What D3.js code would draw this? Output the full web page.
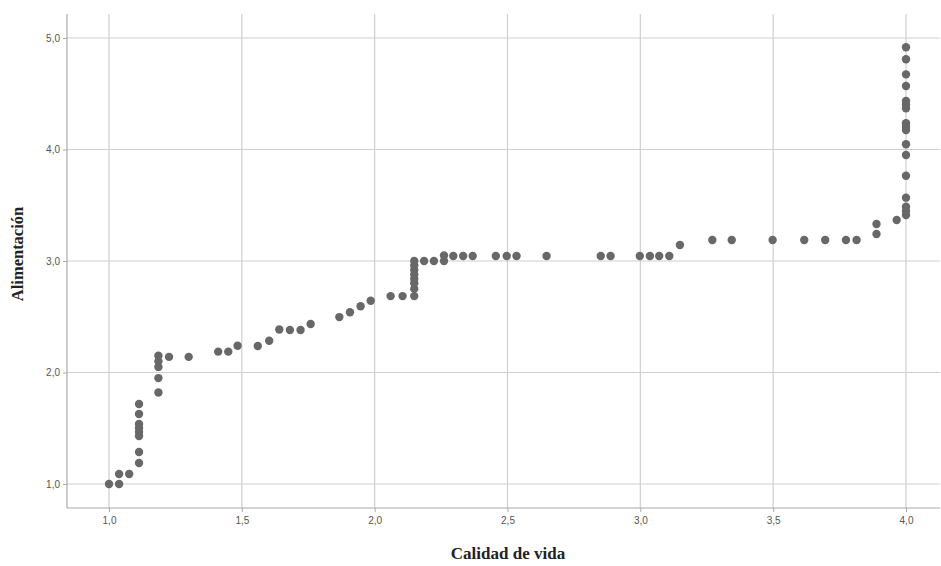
<!DOCTYPE html>
<html><head><meta charset="utf-8">
<script src="https://cdn.jsdelivr.net/npm/d3@7"></script>
<style>body{margin:0;background:#fff}svg{display:block}</style>
</head><body><svg id="c" width="941" height="566"></svg>
<script>
const xLabel = "Calidad de vida";
const yLabel = "Alimentación";
const xTicks = [1.0,1.5,2.0,2.5,3.0,3.5,4.0];
const yTicks = [1.0,2.0,3.0,4.0,5.0];
const calidadVida = [
 1.0,1.038,1.038,1.076,
 1.113,1.113,1.113,1.113,1.113,1.113,1.113,1.113,
 1.186,1.186,1.186,1.186,1.186,1.226,1.30,
 1.411,1.449,1.484,1.560,1.603,1.641,1.681,1.721,1.759,
 1.867,1.907,1.947,1.985,2.060,2.105,
 2.149,2.149,2.149,2.149,2.149,2.149,2.149,2.149,
 2.186,2.223,2.261,2.261,2.296,2.333,2.369,2.456,2.497,2.534,2.647,
 2.851,2.888,2.998,3.036,3.071,3.109,3.149,
 3.271,3.344,3.498,3.617,3.696,3.774,3.814,3.889,3.889,3.965,
 4,4,4,4,4,4,4,4,4,4,4,4,4,4,4,4,4
];
const alimentacion = [
 1.0,1.0,1.09,1.09,
 1.188,1.287,1.43,1.466,1.502,1.538,1.628,1.717,
 1.82,1.95,2.05,2.10,2.15,2.14,2.14,
 2.187,2.187,2.24,2.237,2.285,2.386,2.381,2.381,2.435,
 2.497,2.54,2.594,2.643,2.685,2.685,
 2.685,2.75,2.80,2.84,2.88,2.92,2.96,3.0,
 3.0,3.0,3.0,3.05,3.045,3.045,3.045,3.045,3.045,3.045,3.045,
 3.045,3.045,3.045,3.045,3.045,3.045,3.143,
 3.188,3.188,3.188,3.188,3.188,3.188,3.188,3.242,3.332,3.368,
 3.413,3.448,3.487,3.568,3.765,3.951,4.047,4.175,4.205,4.235,4.369,4.402,4.435,4.570,4.674,4.809,4.917
];
const svg = d3.select("#c");
const L=67, R=940, T=14, B=508;
const x = d3.scaleLinear().domain([1,4]).range([109,906]);
const y = d3.scaleLinear().domain([1,5]).range([484,38]);
const fmt = d => d.toFixed(1).replace(".", ",");
// grid
svg.append("g").selectAll("line").data(xTicks).join("line")
 .attr("x1",d=>x(d)).attr("x2",d=>x(d)).attr("y1",T).attr("y2",B)
 .attr("stroke","#cfcfcf").attr("stroke-width",1.2);
svg.append("g").selectAll("line").data(yTicks).join("line")
 .attr("y1",d=>y(d)).attr("y2",d=>y(d)).attr("x1",L).attr("x2",R)
 .attr("stroke","#cfcfcf").attr("stroke-width",1.2);
// axes
const xa = svg.append("g").attr("transform",`translate(0,${B})`)
 .call(d3.axisBottom(x).tickValues(xTicks).tickFormat(fmt).tickSize(4).tickPadding(5));
const ya = svg.append("g").attr("transform",`translate(${L},0)`)
 .call(d3.axisLeft(y).tickValues(yTicks).tickFormat(fmt).tickSize(4).tickPadding(3));
[xa,ya].forEach(a=>{
 a.select(".domain").remove();
 a.selectAll(".tick line").attr("stroke","#aaa");
 a.selectAll(".tick text").attr("fill","#555").style("font-family","Arial, 'Liberation Sans', sans-serif").style("font-size","10px");
});
svg.append("line").attr("x1",L).attr("x2",L).attr("y1",T).attr("y2",B).attr("stroke","#aaa").attr("stroke-width",1.2);
svg.append("line").attr("x1",L).attr("x2",R).attr("y1",B).attr("y2",B).attr("stroke","#aaa").attr("stroke-width",1.2);
// points
svg.append("g").selectAll("circle").data(calidadVida.map((v,i)=>[v,alimentacion[i]])).join("circle")
 .attr("cx",d=>x(d[0])).attr("cy",d=>y(d[1])).attr("r",4.2).attr("fill","#686868");
// labels
svg.append("text").attr("x",508).attr("y",559).attr("text-anchor","middle")
 .style("font-family","'Liberation Serif','Times New Roman',serif").style("font-weight","bold").style("font-size","17px").attr("fill","#222").text(xLabel);
svg.append("text").attr("transform",`translate(23,254) rotate(-90)`).attr("text-anchor","middle")
 .style("font-family","'Liberation Serif','Times New Roman',serif").style("font-weight","bold").style("font-size","16.5px").attr("fill","#222").text(yLabel);
</script></body></html>
